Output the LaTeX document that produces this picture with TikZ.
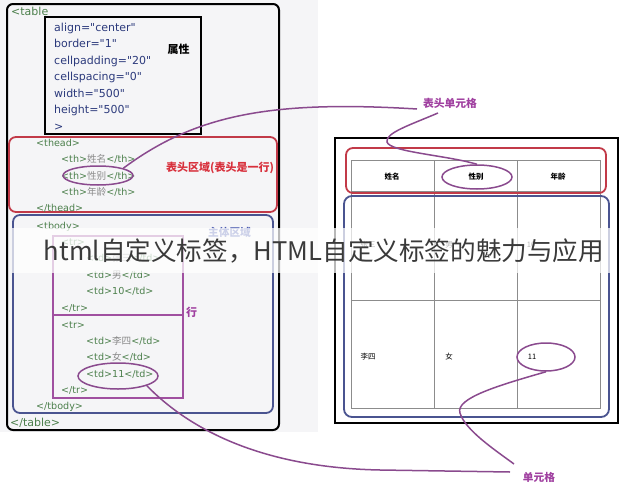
\documentclass[tikz,border=0pt]{standalone}
\usepackage{fontspec}
\setmainfont{DejaVu Sans}[Ligatures=TeXOff]
\newfontfamily\cjk{Noto Sans CJK SC}
\usetikzlibrary{shapes.geometric}
\definecolor{tagc}{HTML}{4B7F4B}
\definecolor{attrc}{HTML}{2C3A7C}
\definecolor{zhc}{HTML}{8A8A8A}
\definecolor{leftbg}{HTML}{F5F5F7}
\definecolor{redc}{HTML}{C23A48}
\definecolor{redt}{HTML}{D8303C}
\definecolor{bluec}{HTML}{4A5490}
\definecolor{bluet}{HTML}{4A5AB0}
\definecolor{purc}{HTML}{A050A0}
\definecolor{curvec}{HTML}{8A4A8E}
\definecolor{purt}{HTML}{A040A0}
\definecolor{gridc}{HTML}{8C8C8C}
\definecolor{ovc}{HTML}{3A3A3A}
\newcommand\tg[1]{\textcolor{tagc}{#1}}
\newcommand\zg[1]{{\cjk\color{zhc}#1}}
\begin{document}
\begin{tikzpicture}[x=1pt,y=-1pt,
  code/.style={anchor=base west, inner sep=0, font=\fontsize{9.6}{10}\selectfont},
  big/.style={anchor=base west, inner sep=0, text=tagc, font=\fontsize{11}{12}\selectfont},
  attr/.style={anchor=base west, inner sep=0, text=attrc, font=\fontsize{11}{12}\selectfont},
  lbl/.style={inner sep=0, font=\cjk\bfseries\fontsize{11}{12}\selectfont},
  cell/.style={inner sep=0, font=\cjk\fontsize{7.5}{8}\selectfont},
  hcell/.style={inner sep=0, font=\cjk\bfseries\fontsize{7.5}{8}\selectfont},
  ring/.style={ellipse, draw=curvec, line width=1.5pt, inner sep=0},
  link/.style={draw=curvec, line width=1.5pt},
]
\useasboundingbox (0,0) rectangle (643,490);
\fill[white] (0,0) rectangle (643,490);
\fill[leftbg] (0,0) rectangle (318,432);

% ---------- left panel boxes ----------
\draw[line width=2pt, rounded corners=6pt] (7,4) rectangle (279,430);
\draw[line width=2pt] (45,17) rectangle (201,134);
\draw[redc, line width=1.8pt, rounded corners=7pt] (9,137) rectangle (277,212);
\draw[bluec, line width=1.8pt, rounded corners=7pt] (13,215) rectangle (273,413);
\draw[purc, line width=1.5pt] (53,236) rectangle (183,315);
\draw[purc, line width=1.5pt] (53,315) rectangle (183,398);

% ---------- left panel code ----------
\node[big] (t0) at (11,15) {<table};
\node[attr] (a1) at (54,31) {align="center"};
\node[attr] (a2) at (54,47.5) {border="1"};
\node[attr] (a3) at (54,64) {cellpadding="20"};
\node[attr] (a4) at (54,80.5) {cellspacing="0"};
\node[attr] (a5) at (54,97) {width="500"};
\node[attr] (a6) at (54,113.5) {height="500"};
\node[attr] (a7) at (54,130) {>};
\node[lbl] (lattr) at (178.5,49) {属性};

\node[code] (h0) at (36,146) {\tg{<thead>}};
\node[code] (h1) at (61,162.5) {\tg{<th>}\zg{姓名}\tg{</th>}};
\node[code] (h2) at (61,179) {\tg{<th>}\zg{性别}\tg{</th>}};
\node[code] (h3) at (61,195.5) {\tg{<th>}\zg{年龄}\tg{</th>}};
\node[code] (h4) at (36,211) {\tg{</thead>}};
\node[lbl, text=redt] (lhead) at (220,168) {表头区域(表头是一行)};

\node[code] (b0) at (36,229) {\tg{<tbody>}};
\node[lbl, text=bluet, font=\cjk\bfseries\fontsize{10.7}{12}\selectfont] (lbody) at (229.5,232) {主体区域};
\node[code] (r1) at (61,245) {\tg{<tr>}};
\node[code] (d1) at (86,261) {\tg{<td>}\zg{张三}\tg{</td>}};
\node[code] (d2) at (86,278) {\tg{<td>}\zg{男}\tg{</td>}};
\node[code] (d3) at (86,294.5) {\tg{<td>10</td>}};
\node[code] (r2) at (61,311) {\tg{</tr>}};
\node[code] (r3) at (61,328) {\tg{<tr>}};
\node[code] (d4) at (86,344) {\tg{<td>}\zg{李四}\tg{</td>}};
\node[code] (d5) at (86,360.5) {\tg{<td>}\zg{女}\tg{</td>}};
\node[code] (d6) at (86,377) {\tg{<td>11</td>}};
\node[code] (r4) at (61,393) {\tg{</tr>}};
\node[code] (b1) at (36,409) {\tg{</tbody>}};
\node[big] (t1) at (10,426) {</table>};
\node[lbl, text=purt] (lrow) at (191.5,312) {行};

% ---------- right panel ----------
\draw[line width=2.6pt] (335,138) rectangle (618,423);
\draw[gridc, line width=0.8pt] (351,160) rectangle (600,408);
\draw[gridc, line width=0.8pt] (434,160) -- (434,408);
\draw[gridc, line width=0.8pt] (517,160) -- (517,408);
\draw[gridc, line width=0.8pt] (351,191) -- (600,191);
\draw[gridc, line width=0.8pt] (351,300) -- (600,300);
\draw[redc, line width=1.8pt, rounded corners=7pt] (346,148) rectangle (606,193);
\draw[bluec, line width=1.8pt, rounded corners=8pt] (344,196) rectangle (609,417);

\node[hcell] (c1) at (392,177) {姓名};
\node[hcell] (c2) at (476,177) {性别};
\node[hcell] (c3) at (558,177) {年龄};
\node[cell] (c4) at (368,245) {张三};
\node[cell] (c5) at (449,245) {男};
\node[cell] (c6) at (531,245) {10};
\node[cell] (c7) at (368,357) {李四};
\node[cell] (c8) at (449,357) {女};
\node[cell] (c9) at (532,357) {11};

% ---------- rings ----------
\node[ring, minimum width=70pt, minimum height=19pt] (e1) at (98,175.5) {};
\node[ring, minimum width=80pt, minimum height=26pt] (e2) at (118,376) {};
\node[ring, minimum width=70pt, minimum height=24pt] (e3) at (477,177) {};
\node[ring, minimum width=58pt, minimum height=28pt] (e4) at (546,357) {};

% ---------- labels ----------
\node[lbl, text=purt, font=\cjk\bfseries\fontsize{10.8}{12}\selectfont] (lth) at (450,103) {表头单元格};
\node[lbl, text=purt, font=\cjk\bfseries\fontsize{10.7}{12}\selectfont] (ltd) at (539,477) {单元格};
\coordinate (thA) at (417,109);
\coordinate (thB) at (438,113);
\coordinate (tdA) at (510,472);
\coordinate (tdB) at (514,464);

% ---------- connectors ----------
\draw[link] (e1.north east) .. controls (195,115) and (270,100) .. (thA);
\draw[link] (thB) .. controls (410,125) and (385,133) .. (387,142)
                  .. controls (390,152) and (445,155) .. (e3.north);
\draw[link] (e2.south east) .. controls (200,440) and (280,468) .. (380,470) -- (tdA);
\draw[link] (e4.south) .. controls (500,385) and (455,398) .. (460,413)
                  .. controls (465,430) and (495,450) .. (tdB);

% ---------- overlay title ----------
\fill[white, fill opacity=0.72] (12,228) rectangle (612,273);
\node[inner sep=0, text=ovc, font=\cjk\fontsize{25.6}{27}\selectfont] (title) at (324,251) {html自定义标签，HTML自定义标签的魅力与应用};
\end{tikzpicture}
\end{document}
